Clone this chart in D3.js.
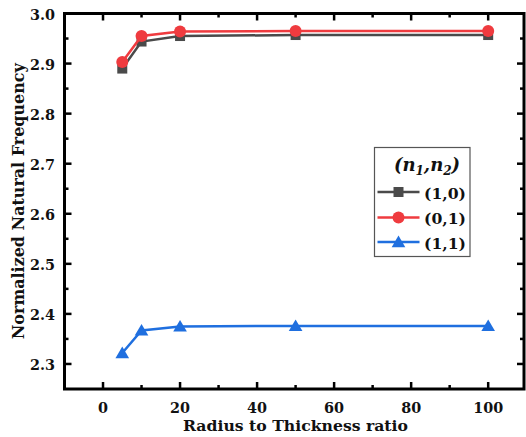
<!DOCTYPE html>
<html>
<head>
<meta charset="utf-8">
<script src="https://cdn.jsdelivr.net/npm/d3@7/dist/d3.min.js"></script>
<style>
  html, body { margin: 0; padding: 0; background: #fff; }
  svg { display: block; }
  text { font-family: "DejaVu Serif", "Liberation Serif", serif; font-weight: bold; fill: #111; }
</style>
</head>
<body>
<svg id="chart" width="526" height="437"></svg>
<script>
// Radius-to-thickness ratios sampled
const ratios = [5, 10, 20, 50, 100];
// Normalized natural frequency per mode (n1,n2)
const mode10 = [2.890, 2.944, 2.955, 2.957, 2.957];
const mode01 = [2.903, 2.955, 2.964, 2.965, 2.965];
const mode11 = [2.322, 2.367, 2.375, 2.376, 2.376];

const seriesNames = ["(1,0)", "(0,1)", "(1,1)"];
const seriesColors = ["#4a4a4a", "#ef3b3f", "#1f6fdf"];
const seriesShapes = ["square", "circle", "triangle"];

const xTicks = [0, 20, 40, 60, 80, 100];
const yTicks = [2.3, 2.4, 2.5, 2.6, 2.7, 2.8, 2.9, 3.0];

const svg = d3.select("#chart");
const L = 64.5, R = 524, T = 13.5, B = 389;

const x = d3.scaleLinear().domain([-10, 109.3]).range([L, R]);
const y = d3.scaleLinear().domain([2.25, 3.0]).range([B, T]);

// Scale a text's font size so its rendered width equals the given width
function fitWidth(sel, width) {
  const node = sel.node();
  const fs = parseFloat(sel.attr("font-size"));
  const w = node.getComputedTextLength();
  if (w > 0) sel.attr("font-size", (fs * width / w).toFixed(2));
  return sel;
}

const frame = svg.append("g");

// Axes with inward ticks on all four sides
const tickLenMaj = 7, tickLenMin = 4;
const xMinor = d3.range(-10, 110, 10).filter(v => v % 20 !== 0 && v > -10);
const yMinor = d3.range(2.25, 3.0, 0.05).map(v => +v.toFixed(2)).filter(v => Math.abs((v * 10) % 1) > 0.01 && v > 2.25);

function drawTicks(vals, len) {
  vals.forEach(v => {
    const px = x(v);
    frame.append("line").attr("x1", px).attr("x2", px).attr("y1", B).attr("y2", B - len);
    frame.append("line").attr("x1", px).attr("x2", px).attr("y1", T).attr("y2", T + len);
  });
}
function drawYTicks(vals, len) {
  vals.forEach(v => {
    const py = y(v);
    frame.append("line").attr("x1", L).attr("x2", L + len).attr("y1", py).attr("y2", py);
    frame.append("line").attr("x1", R).attr("x2", R - len).attr("y1", py).attr("y2", py);
  });
}
drawTicks(xTicks, tickLenMaj);
drawTicks(xMinor, tickLenMin);
drawYTicks(yTicks, tickLenMaj);
drawYTicks(yMinor, tickLenMin);
frame.selectAll("line").attr("stroke", "#000").attr("stroke-width", 2.5);

frame.append("rect")
  .attr("x", L).attr("y", T).attr("width", R - L).attr("height", B - T)
  .attr("fill", "none").attr("stroke", "#000").attr("stroke-width", 3);

// Tick labels: size chosen so "100" spans about 30px
const probe = svg.append("text").attr("font-size", 16).text("100");
fitWidth(probe, 30);
const tickFont = +probe.attr("font-size");
probe.remove();

svg.append("g").selectAll("text").data(xTicks).join("text")
  .attr("x", d => x(d)).attr("y", 412.5)
  .attr("text-anchor", "middle").attr("font-size", tickFont)
  .text(d => d);
svg.append("g").selectAll("text").data(yTicks).join("text")
  .attr("x", 55).attr("y", d => y(d) + 6)
  .attr("text-anchor", "end").attr("font-size", tickFont)
  .text(d => d.toFixed(1));

// Axis titles
fitWidth(svg.append("text").attr("x", 295.5).attr("y", 430.5)
  .attr("text-anchor", "middle").attr("font-size", 16)
  .text("Radius to Thickness ratio"), 225);
fitWidth(svg.append("text")
  .attr("transform", `translate(23.5,${(T + B) / 2}) rotate(-90)`)
  .attr("text-anchor", "middle").attr("font-size", 16)
  .text("Normalized Natural Frequency"), 276);

// Marker helper
function marker(g, shape, cx, cy, color) {
  if (shape === "square") {
    g.append("rect").attr("x", cx - 5).attr("y", cy - 5).attr("width", 10).attr("height", 10).attr("fill", color);
  } else if (shape === "circle") {
    g.append("circle").attr("cx", cx).attr("cy", cy).attr("r", 6).attr("fill", color);
  } else {
    const s = 6.5;
    g.append("path").attr("d", `M${cx},${cy - s}L${cx + s * 1.05},${cy + s * 0.8}L${cx - s * 1.05},${cy + s * 0.8}Z`).attr("fill", color);
  }
}

const allSeries = [mode10, mode01, mode11];
const line = d3.line().x((d, i) => x(ratios[i])).y(d => y(d));
const plot = svg.append("g");
allSeries.forEach((vals, k) => {
  const g = plot.append("g");
  g.append("path").datum(vals).attr("d", line)
    .attr("fill", "none").attr("stroke", seriesColors[k]).attr("stroke-width", 2.5);
  vals.forEach((v, i) => marker(g, seriesShapes[k], x(ratios[i]), y(v), seriesColors[k]));
});

// Legend
const lg = svg.append("g");
lg.append("rect").attr("x", 374.5).attr("y", 147.5).attr("width", 95.5).attr("height", 109)
  .attr("fill", "#fff").attr("stroke", "#555").attr("stroke-width", 1.2);
const title = lg.append("text").attr("x", 427).attr("y", 171).attr("text-anchor", "middle")
  .attr("font-size", 18).attr("font-style", "italic");
title.append("tspan").text("(n");
title.append("tspan").attr("font-size", 12).attr("dy", 4).text("1");
title.append("tspan").attr("dy", -4).text(",n");
title.append("tspan").attr("font-size", 12).attr("dy", 4).text("2");
title.append("tspan").attr("dy", -4).text(")");
const rowY = [192, 217.5, 242];
seriesNames.forEach((name, k) => {
  lg.append("line").attr("x1", 377.5).attr("x2", 419.5).attr("y1", rowY[k]).attr("y2", rowY[k])
    .attr("stroke", seriesColors[k]).attr("stroke-width", 2.5);
  marker(lg, seriesShapes[k], 398.5, rowY[k], seriesColors[k]);
  fitWidth(lg.append("text").attr("x", 424).attr("y", rowY[k] + 6.5).attr("font-size", 17).text(name), 42);
});
</script>
</body>
</html>
